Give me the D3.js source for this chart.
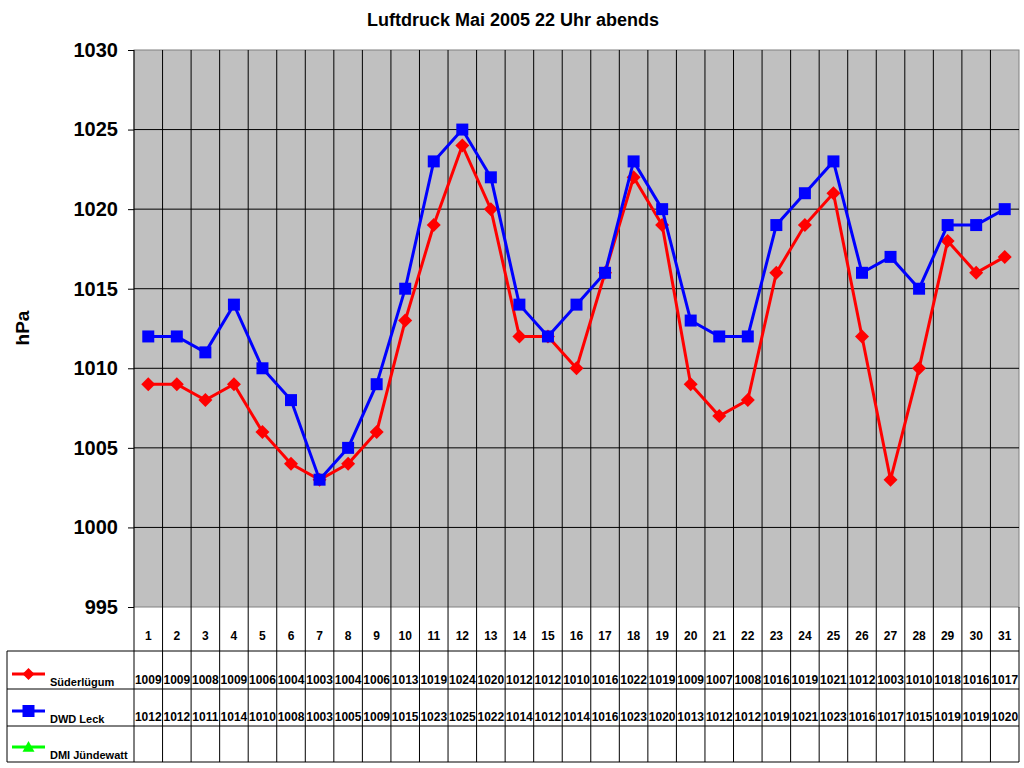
<!DOCTYPE html>
<html>
<head>
<meta charset="utf-8">
<script src="https://cdn.jsdelivr.net/npm/d3@7"></script>
<style>
  body { margin: 0; background: #fff; }
  svg { display: block; font-family: Arial, "Liberation Sans", sans-serif; }
</style>
</head>
<body>
<svg id="chart" width="1024" height="768"></svg>
<script>
const days = d3.range(1, 32).map(String);
const suederluegum = [1009,1009,1008,1009,1006,1004,1003,1004,1006,1013,1019,1024,1020,1012,1012,1010,1016,1022,1019,1009,1007,1008,1016,1019,1021,1012,1003,1010,1018,1016,1017];
const dwdLeck = [1012,1012,1011,1014,1010,1008,1003,1005,1009,1015,1023,1025,1022,1014,1012,1014,1016,1023,1020,1013,1012,1012,1019,1021,1023,1016,1017,1015,1019,1019,1020];
const dmiJuendewatt = [];
const yTicks = [995, 1000, 1005, 1010, 1015, 1020, 1025, 1030];

const series = [
  { name: 'Süderlügum', values: suederluegum, color: '#ff0000', marker: 'diamond' },
  { name: 'DWD Leck', values: dwdLeck, color: '#0000ff', marker: 'square' },
  { name: 'DMI Jündewatt', values: dmiJuendewatt, color: '#00ff00', marker: 'triangle' }
];

const plotL = 134, plotR = 1019, plotT = 50, plotB = 607;
const rows = [651, 689, 726, 762];

const svg = d3.select('#chart');
const x = d3.scaleBand().domain(days).range([plotL, plotR]);
const y = d3.scaleLinear().domain([995, 1030]).range([plotB, plotT]);
const cx = d => x(d) + x.bandwidth() / 2;

// title
svg.append('text')
  .attr('x', 513).attr('y', 26)
  .attr('text-anchor', 'middle')
  .attr('font-size', 18).attr('font-weight', 'bold')
  .text('Luftdruck Mai 2005 22 Uhr abends');

// plot area
svg.append('rect')
  .attr('x', plotL).attr('y', plotT)
  .attr('width', plotR - plotL).attr('height', plotB - plotT)
  .attr('fill', '#c0c0c0').attr('stroke', '#808080');

// gridlines
svg.append('g')
  .selectAll('line')
  .data(yTicks.slice(1, -1))
  .join('line')
  .attr('x1', plotL).attr('x2', plotR)
  .attr('y1', d => y(d)).attr('y2', d => y(d))
  .attr('stroke', '#000');

svg.append('g')
  .selectAll('line')
  .data(days.slice(1))
  .join('line')
  .attr('x1', d => x(d)).attr('x2', d => x(d))
  .attr('y1', plotT).attr('y2', rows[3])
  .attr('stroke', '#000');

// y axis
const yAxis = svg.append('g')
  .attr('transform', `translate(${plotL},0)`)
  .call(d3.axisLeft(y).tickValues(yTicks).tickSize(6).tickPadding(10).tickFormat(d3.format('d')));
yAxis.select('.domain').attr('stroke', '#000').attr('d', `M0,${plotT}V${rows[3]}`);
yAxis.selectAll('.tick line').attr('stroke', '#000');
yAxis.selectAll('.tick text')
  .attr('font-size', 20).attr('font-weight', 'bold')
  .attr('font-family', 'Arial, "Liberation Sans", sans-serif')
  .attr('fill', '#000');

svg.append('text')
  .attr('transform', 'translate(29,328) rotate(-90)')
  .attr('text-anchor', 'middle')
  .attr('font-size', 19).attr('font-weight', 'bold')
  .text('hPa');

// table lines
svg.append('g')
  .selectAll('line')
  .data(rows)
  .join('line')
  .attr('x1', 7).attr('x2', plotR)
  .attr('y1', d => d).attr('y2', d => d)
  .attr('stroke', '#000');
svg.append('line')
  .attr('x1', 7).attr('x2', 7).attr('y1', rows[0]).attr('y2', rows[3])
  .attr('stroke', '#000');
svg.append('line')
  .attr('x1', plotR).attr('x2', plotR).attr('y1', plotB).attr('y2', rows[3])
  .attr('stroke', '#000');

// day labels
svg.append('g')
  .selectAll('text')
  .data(days)
  .join('text')
  .attr('x', cx)
  .attr('y', 640)
  .attr('text-anchor', 'middle')
  .attr('font-size', 12).attr('font-weight', 'bold')
  .text(d => d);

function markerPath(type, s) {
  if (type === 'diamond') return `M0,${-s}L${s},0L0,${s}L${-s},0Z`;
  if (type === 'square') return `M${-s},${-s}H${s}V${s}H${-s}Z`;
  return `M0,${-s}L${s},${s * 0.8}H${-s}Z`;
}

const line = d3.line()
  .x((d, i) => cx(days[i]))
  .y(d => y(d));

series.forEach((s, k) => {
  const g = svg.append('g');
  if (s.values.length) {
    g.append('path')
      .datum(s.values)
      .attr('d', line)
      .attr('fill', 'none')
      .attr('stroke', s.color)
      .attr('stroke-width', 3);
    g.selectAll('path.m')
      .data(s.values)
      .join('path')
      .attr('class', 'm')
      .attr('transform', (d, i) => `translate(${cx(days[i])},${y(d)})`)
      .attr('d', markerPath(s.marker, s.marker === 'diamond' ? 7 : 6))
      .attr('fill', s.color);
  }

  // table row
  const rowBottom = rows[k + 1];
  const ly = rowBottom - 15;
  const legend = svg.append('g');
  legend.append('line')
    .attr('x1', 12).attr('x2', 45).attr('y1', ly).attr('y2', ly)
    .attr('stroke', s.color).attr('stroke-width', 3);
  legend.append('path')
    .attr('transform', `translate(28.5,${ly})`)
    .attr('d', markerPath(s.marker, 6))
    .attr('fill', s.color);
  legend.append('text')
    .attr('x', 50).attr('y', rowBottom - 3)
    .attr('font-size', 11).attr('font-weight', 'bold')
    .text(s.name);

  svg.append('g')
    .selectAll('text')
    .data(s.values)
    .join('text')
    .attr('x', (d, i) => cx(days[i]))
    .attr('y', rowBottom - 5)
    .attr('text-anchor', 'middle')
    .attr('font-size', 12).attr('font-weight', 'bold')
    .text(d => d);
});
</script>
</body>
</html>
